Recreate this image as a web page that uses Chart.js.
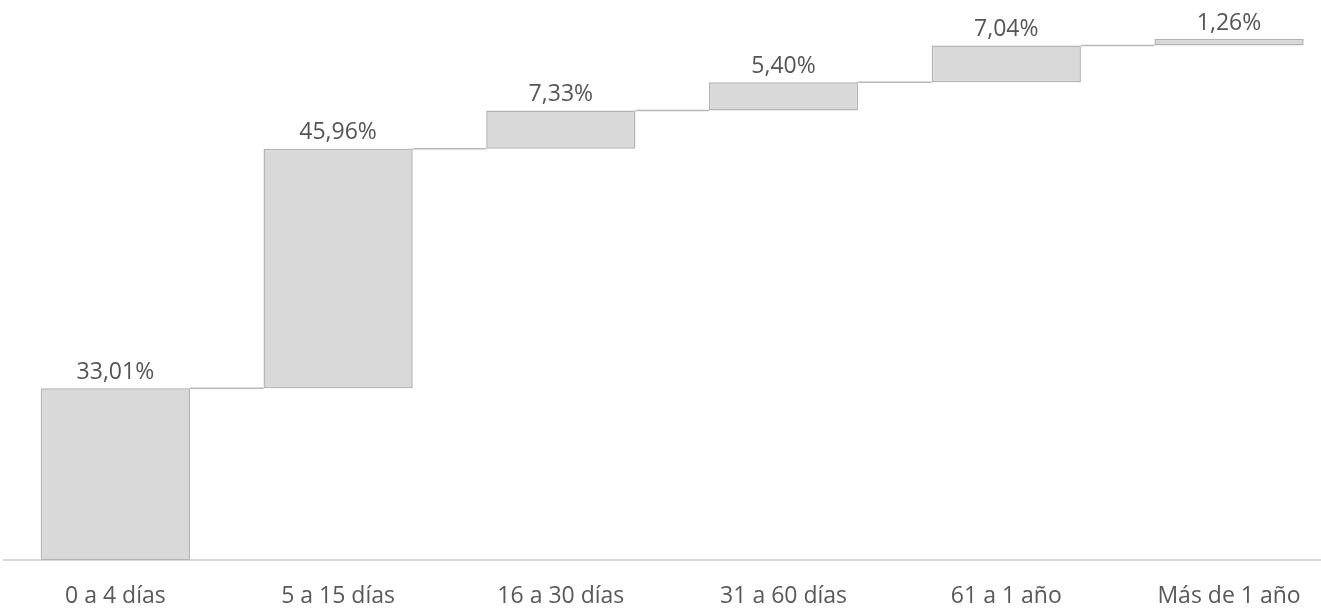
<!DOCTYPE html>
<html>
<head>
<meta charset="utf-8">
<script src="https://cdn.jsdelivr.net/npm/chart.js@4/dist/chart.umd.min.js"></script>
<style>
  html, body { margin: 0; padding: 0; background: #ffffff; }
  #wrap { width: 1321px; height: 616px; overflow: hidden; position: relative; }
  #box { width: 1345px; height: 632px; position: absolute; left: 0; top: 0; }
</style>
</head>
<body>
<div id="wrap"><div id="box"><canvas id="c"></canvas></div></div>
<script>
const categories = ["0 a 4 días", "5 a 15 días", "16 a 30 días", "31 a 60 días", "61 a 1 año", "Más de 1 año"];
const values = [33.01, 45.96, 7.33, 5.40, 7.04, 1.26];
const valueLabels = ["33,01%", "45,96%", "7,33%", "5,40%", "7,04%", "1,26%"];

const floating = [];
let run = 0;
for (const v of values) { floating.push([run, run + v]); run += v; }

const FONT = "'Open Sans', 'DejaVu Sans', sans-serif";

const overlay = {
  id: 'overlay',
  afterDatasetsDraw(chart) {
    const ctx = chart.ctx;
    const meta = chart.getDatasetMeta(0);
    const y = chart.scales.y;
    ctx.save();
    ctx.strokeStyle = '#b8b8b8';
    ctx.lineWidth = 1.5;
    for (let i = 0; i < meta.data.length - 1; i++) {
      const a = meta.data[i], b = meta.data[i + 1];
      const yy = y.getPixelForValue(floating[i][1]);
      ctx.beginPath();
      ctx.moveTo(a.x + a.width / 2, yy);
      ctx.lineTo(b.x - b.width / 2, yy);
      ctx.stroke();
    }
    ctx.fillStyle = '#555555';
    ctx.font = '23px ' + FONT;
    ctx.textAlign = 'center';
    ctx.textBaseline = 'middle';
    meta.data.forEach((el, i) => {
      const top = y.getPixelForValue(floating[i][1]);
      ctx.fillText(valueLabels[i], el.x, top - 16);
    });
    ctx.restore();
  }
};

new Chart(document.getElementById('c'), {
  type: 'bar',
  data: {
    labels: categories,
    datasets: [{
      data: floating,
      backgroundColor: '#d9d9d9',
      borderColor: '#b3b3b3',
      borderWidth: 1.5,
      borderSkipped: false,
      categoryPercentage: 1,
      barPercentage: 0.67
    }]
  },
  options: {
    responsive: true,
    maintainAspectRatio: false,
    animation: false,
    layout: { padding: { top: 39, left: 4, right: 4.6, bottom: 0 } },
    plugins: { legend: { display: false }, tooltip: { enabled: false } },
    scales: {
      x: {
        grid: { display: false, drawTicks: false },
        border: { display: true, color: '#d9d9d9', width: 2 },
        ticks: { color: '#595959', font: { family: FONT, size: 23 }, padding: 22, maxRotation: 0, autoSkip: false }
      },
      y: {
        display: false,
        min: 0,
        max: 100
      }
    }
  },
  plugins: [overlay]
});
</script>
</body>
</html>
